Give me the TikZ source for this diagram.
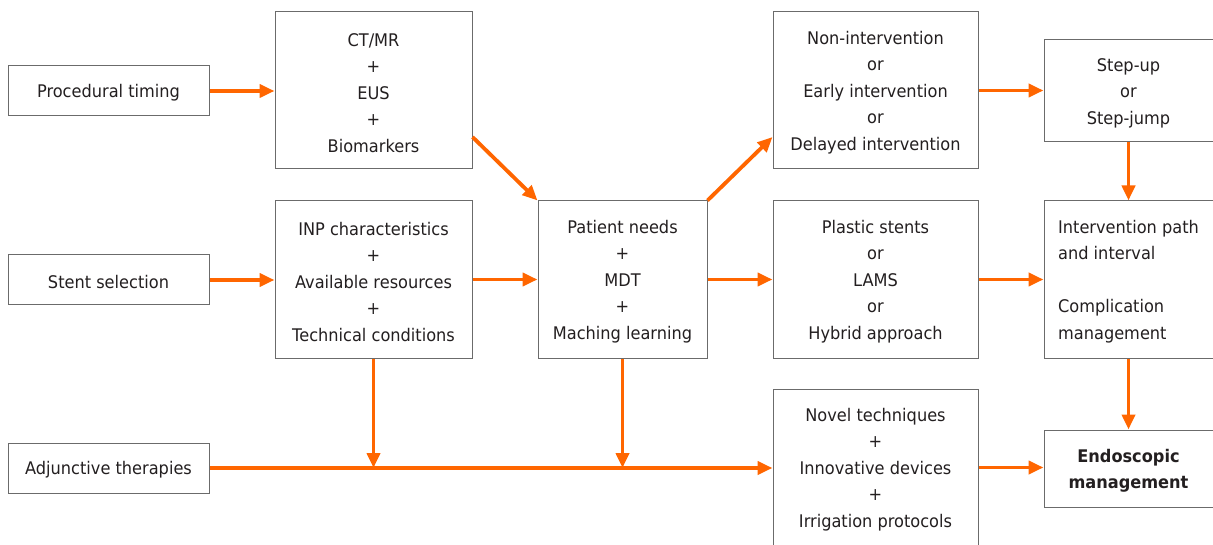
\documentclass[tikz,border=0pt]{standalone}
\usepackage{fontspec}
\setmainfont{DejaVu Sans}[FakeStretch=0.93]
\usetikzlibrary{arrows.meta,calc}
\definecolor{orng}{HTML}{FF6600}
\definecolor{boxgray}{HTML}{6B6B6B}
\definecolor{txt}{HTML}{231F20}
\newcommand{\tst}{\rule{0pt}{17.6pt}}
\begin{document}
\begin{tikzpicture}[x=1pt,y=-1pt,
  box/.style={draw=boxgray,line width=1pt,inner sep=0pt,align=center,text=txt,
    font=\fontsize{17.4}{26.5}\selectfont},
  arr/.style={draw=orng,line width=3.8pt,-{Triangle[length=15pt,width=13pt]}}]
\useasboundingbox[fill=white] (0,0) rectangle (1213,545);
\node[box,minimum width=201pt,minimum height=50pt] (pt) at (108.5,91) {\tst Procedural timing};
\node[box,minimum width=201pt,minimum height=50pt] (ss) at (108.5,280) {\tst Stent selection};
\node[box,minimum width=201pt,minimum height=50pt] (at) at (108.5,468) {\tst Adjunctive therapies};
\node[box,minimum width=197pt,minimum height=157pt] (ct) at (373.5,90.5) {\tst CT/MR\\+\\EUS\\+\\Biomarkers};
\node[box,minimum width=197pt,minimum height=157pt] (inp) at (373.5,279.5) {\tst INP characteristics\\+\\Available resources\\+\\Technical conditions};
\node[box,minimum width=169pt,minimum height=157pt] (pn) at (622.5,279.5) {\tst Patient needs\\+\\MDT\\+\\Maching learning};
\node[box,minimum width=205pt,minimum height=157pt] (ni) at (875.5,90.5) {\tst Non-intervention\\or\\Early intervention\\or\\Delayed intervention};
\node[box,minimum width=205pt,minimum height=157pt] (ps) at (875.5,279.5) {\tst Plastic stents\\or\\LAMS\\or\\Hybrid approach};
\node[box,minimum width=205pt,minimum height=157pt] (nt) at (875.5,467.5) {\tst Novel techniques\\+\\Innovative devices\\+\\Irrigation protocols};
\node[box,minimum width=169pt,minimum height=102pt] (su) at (1128.5,91) {\tst Step-up\\or\\Step-jump};
\node[box,minimum width=169pt,minimum height=157pt,align=left] (ip) at (1128.5,279.5) {\tst Intervention path\\and interval\\\mbox{}\\Complication\\management};
\node[box,minimum width=169pt,minimum height=77pt,font=\fontsize{17.4}{26.5}\selectfont\bfseries] (em) at (1128.5,468.5) {\tst Endoscopic\\management};
% connectors
\draw[arr] (pt.east) -- (pt.east -| ct.west);
\draw[arr] ([yshift=-46.5pt]ct.east) -- (pn.north west);
\draw[arr] (pn.north east) -- ([yshift=-46.5pt]ni.west);
\draw[arr] (ni.east) -- (ni.east -| su.west);
\draw[arr] (ss.east) -- (ss.east -| inp.west);
\draw[arr] (inp.east) -- (pn.west);
\draw[arr] (pn.east) -- (ps.west);
\draw[arr] (ps.east) -- (ip.west);
\draw[arr] (su.south) -- (ip.north);
\draw[arr] (ip.south) -- (em.north);
\draw[arr] (at.east) -- (at.east -| nt.west);
\coordinate (j1) at (inp.south |- at.east);
\coordinate (j2) at (pn.south |- at.east);
\draw[arr] (inp.south) -- (j1);
\draw[arr] (pn.south) -- (j2);
\draw[arr] (nt.east) -- (nt.east -| em.west);
\end{tikzpicture}
\end{document}
